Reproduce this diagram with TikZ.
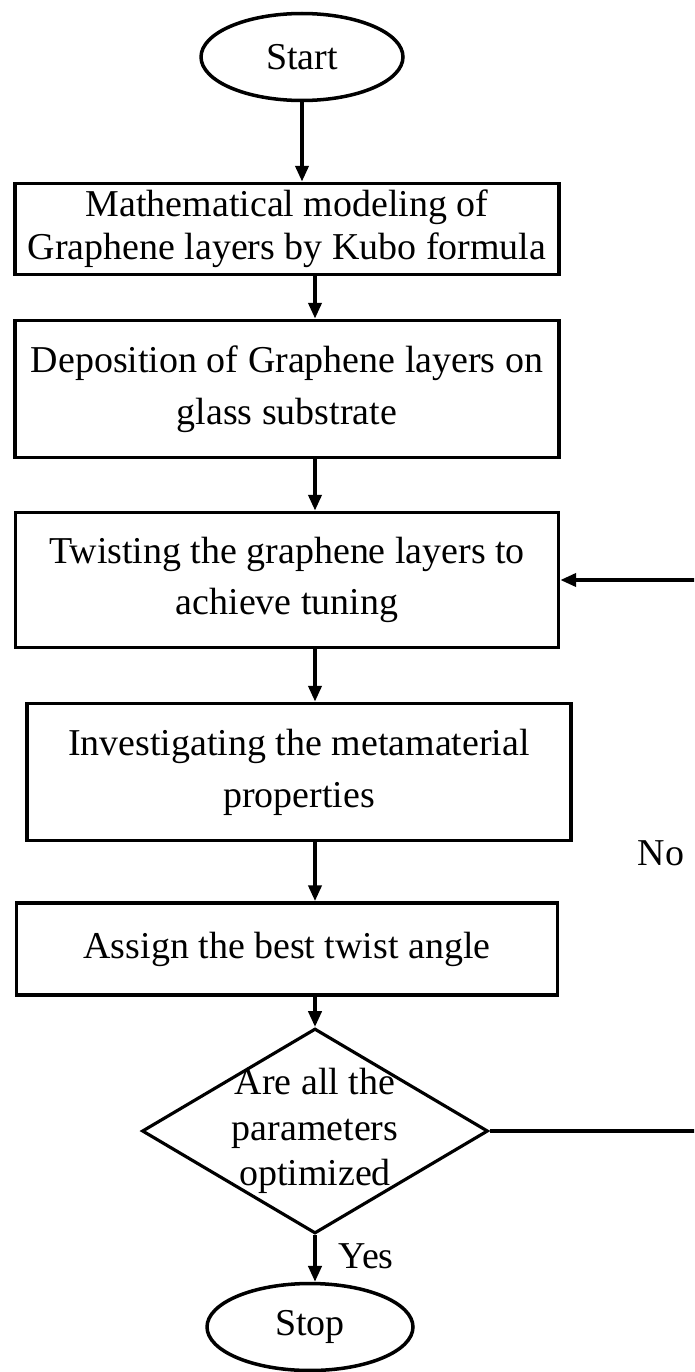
\documentclass[tikz,border=0pt]{standalone}
\usepackage{fontspec}
\setmainfont{Liberation Serif}
\usetikzlibrary{arrows.meta,shapes.geometric}
\definecolor{chartInk}{RGB}{0,0,0}
\tikzset{
  chartbox/.style={draw=chartInk,line width=2.2pt,fill=white,inner sep=0pt,align=center,text=chartInk,font=\fontsize{21.6}{29.5}\selectfont},
  chartterm/.style={ellipse,draw=chartInk,line width=2pt,inner sep=0pt,text=chartInk,font=\fontsize{21.6}{26}\selectfont},
  chartdecision/.style={diamond,draw=chartInk,line width=1.8pt,inner sep=0pt},
  charttext/.style={align=center,text=chartInk,font=\fontsize{21.6}{26}\selectfont},
  chartflow/.style={-{Triangle[length=9pt,width=7.5pt]},draw=chartInk,line width=2pt},
}

\begin{document}
\begin{tikzpicture}[x=0.02cm,y=-0.02cm]
% Page: 694 x 1372 units, y grows downwards.
\useasboundingbox (0,0) rectangle (694,1372);
\clip (0,0) rectangle (694,1372);

% Main column, top to bottom.
\node[chartterm,minimum width=4.04cm,minimum height=1.74cm] (start) at (302,57) {Start};
\node[chartbox,minimum width=10.88cm,minimum height=1.82cm,font=\fontsize{21.6}{24.4}\selectfont] (model) at (287,229)
  {Mathematical modeling of\\Graphene layers by Kubo formula};
\node[chartbox,minimum width=10.88cm,minimum height=2.74cm] (deposit) at (287,389)
  {Deposition of Graphene layers on\\glass substrate};
\node[chartbox,minimum width=10.86cm,minimum height=2.70cm] (twist) at (287,580)
  {Twisting the graphene layers to\\achieve tuning};
\node[chartbox,minimum width=10.88cm,minimum height=2.74cm] (probe) at (299,772)
  {Investigating the metamaterial\\properties};
\node[chartbox,minimum width=10.82cm,minimum height=1.84cm] (assign) at (287,949)
  {Assign the best twist angle};
\node[chartdecision,minimum width=6.92cm,minimum height=4.10cm] (decide) at (315,1131) {};
\node[charttext,font=\fontsize{21.6}{26}\selectfont] (decidetext) at (decide.center)
  {Are all the\\parameters\\optimized};
\node[chartterm,minimum width=4.12cm,minimum height=1.74cm] (stop) at (310,1327) {Stop};

\draw[chartflow] (start.south) -- (model.north -| start.south);
\draw[chartflow] (model.south -| decide.north) -- (deposit.north -| decide.north);
\draw[chartflow] (deposit.south -| decide.north) -- (twist.north -| decide.north);
\draw[chartflow] (twist.south -| decide.north) -- (probe.north -| decide.north);
\draw[chartflow] (probe.south -| decide.north) -- (assign.north -| decide.north);
\draw[chartflow] (assign.south -| decide.north) -- (decide.north);
\draw[chartflow] (decide.south) -- (stop.north -| decide.south);

% Loop back on the right edge (vertical run lies past the page).
\coordinate (loopedge) at (720,578);
\draw[chartflow] (decide.east) -- (decide.east -| loopedge) |- (twist.east);

\node[charttext] (nolabel) at (661,853) {No};
\node[charttext] (yeslabel) at (366,1256) {Yes};
\end{tikzpicture}
\end{document}
